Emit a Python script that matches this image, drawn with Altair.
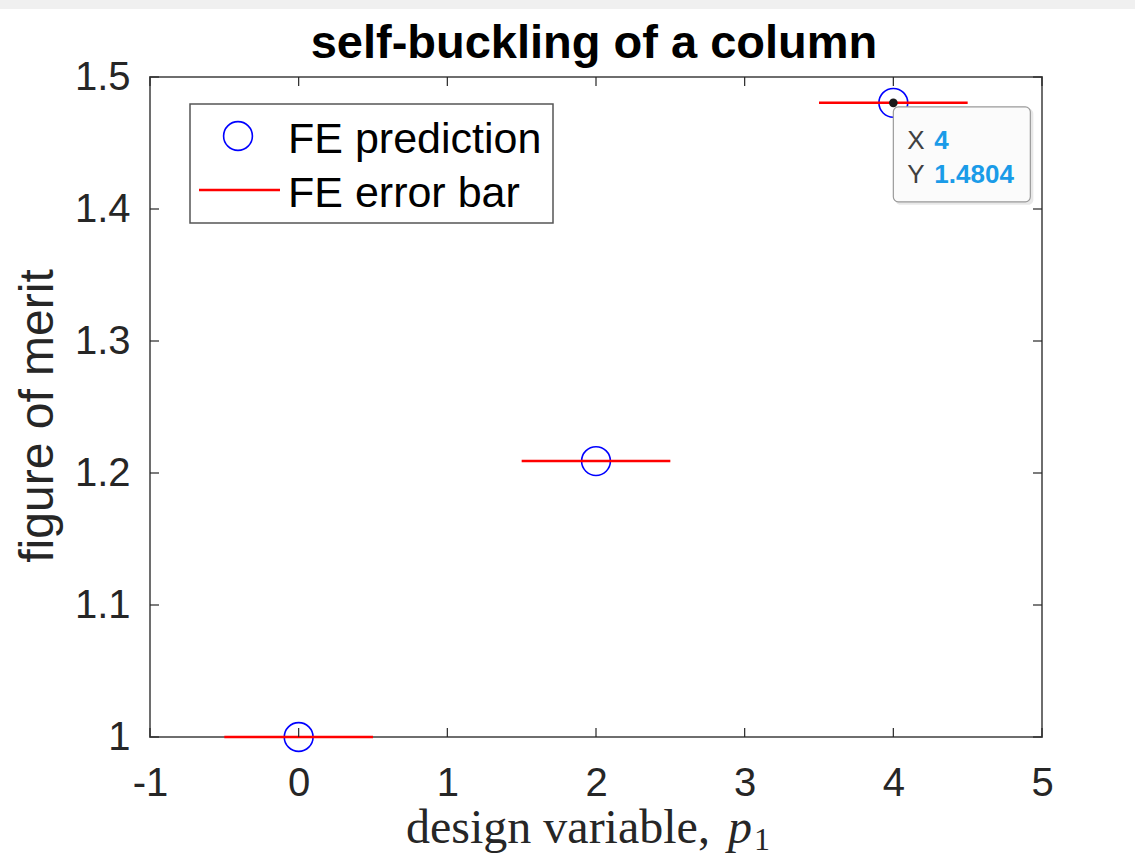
import altair as alt
import pandas as pd

# ---- data ----
p1 = [0, 2, 4]
fom = [1.0, 1.209, 1.4804]
err_half = [0.5, 0.5, 0.5]
x_ticks = [-1, 0, 1, 2, 3, 4, 5]
y_ticks = [1.0, 1.1, 1.2, 1.3, 1.4, 1.5]
legend_labels = ["FE prediction", "FE error bar"]
tip_x = [4]
tip_y = [1.4804]
tip_x_text = ["4"]
tip_y_text = ["1.4804"]
title_text = "self-buckling of a column"
xlabel_text = "design variable,"
ylabel_text = "figure of merit"

W, H = 892, 660
FONT = "Liberation Sans"
SERIF = "Liberation Serif"
AX = "#262626"

df = pd.DataFrame({"p1": p1, "fom": fom, "eh": err_half})
df["lo"] = df["p1"] - df["eh"]
df["hi"] = df["p1"] + df["eh"]
tip = pd.DataFrame({"x": tip_x, "y": tip_y, "tx": tip_x_text, "ty": tip_y_text})
one = pd.DataFrame({"a": [0]})

xs = alt.Scale(domain=[-1, 5], nice=False, zero=False)
ys = alt.Scale(domain=[1, 1.5], nice=False, zero=False)

x_axis = alt.Axis(values=x_ticks, format="d", labelExpr="replace(datum.label, '\u2212', '-')",
                  ticks=False, domain=False, grid=False,
                  labelFont=FONT, labelFontSize=40, labelColor=AX, labelPadding=26,
                  labelFlush=False, labelOverlap=False, title=None)
y_axis = alt.Axis(values=y_ticks, format="~g", ticks=False, domain=False, grid=False,
                  labelFont=FONT, labelFontSize=40, labelColor=AX, labelPadding=20,
                  labelFlush=False, labelOverlap=False, title=None)

band = alt.Chart(one).mark_rect(color="#f0f0f0").encode(
    x=alt.value(-150), x2=alt.value(985), y=alt.value(-77), y2=alt.value(-68))

circles = alt.Chart(df).mark_point(shape="circle", filled=False, color="#0000ff",
                                   size=830, strokeWidth=1.6, opacity=1).encode(
    x=alt.X("p1:Q", scale=xs, axis=x_axis),
    y=alt.Y("fom:Q", scale=ys, axis=y_axis))

bars = alt.Chart(df).mark_rule(color="#ff0000", strokeWidth=2.5).encode(
    x=alt.X("lo:Q", scale=xs), x2="hi", y=alt.Y("fom:Q", scale=ys))

# inward ticks on all four sides
xt = pd.DataFrame({"t": x_ticks})
yt = pd.DataFrame({"t": y_ticks})
tick_style = dict(color=AX, strokeWidth=1.2)
xt_bot = alt.Chart(xt).mark_rule(**tick_style).encode(
    x=alt.X("t:Q", scale=xs), y=alt.value(H - 9), y2=alt.value(H))
xt_top = alt.Chart(xt).mark_rule(**tick_style).encode(
    x=alt.X("t:Q", scale=xs), y=alt.value(0), y2=alt.value(9))
yt_left = alt.Chart(yt).mark_rule(**tick_style).encode(
    y=alt.Y("t:Q", scale=ys), x=alt.value(0), x2=alt.value(9))
yt_right = alt.Chart(yt).mark_rule(**tick_style).encode(
    y=alt.Y("t:Q", scale=ys), x=alt.value(W - 9), x2=alt.value(W))

# legend
leg_box = alt.Chart(one).mark_rect(fill="white", stroke="#555555", strokeWidth=1.5).encode(
    x=alt.value(40), x2=alt.value(403), y=alt.value(27), y2=alt.value(146))
leg_circ = alt.Chart(one).mark_point(shape="circle", filled=False, color="#0000ff",
                                     size=830, strokeWidth=1.6, opacity=1).encode(
    x=alt.value(88), y=alt.value(59))
leg_line = alt.Chart(one).mark_rule(color="#ff0000", strokeWidth=2.5).encode(
    x=alt.value(49), x2=alt.value(130), y=alt.value(113))
leg_t1 = alt.Chart(one).mark_text(font=FONT, fontSize=43, color="black", align="left",
                                  baseline="alphabetic").encode(
    x=alt.value(138), y=alt.value(76), text=alt.value(legend_labels[0]))
leg_t2 = alt.Chart(one).mark_text(font=FONT, fontSize=43, color="black", align="left",
                                  baseline="alphabetic").encode(
    x=alt.value(138), y=alt.value(130), text=alt.value(legend_labels[1]))

# datatip
tip_shadow = alt.Chart(tip).mark_rect(xOffset=2, x2Offset=140, yOffset=6, y2Offset=102,
                                      cornerRadius=5, fill="#d8d8d8", opacity=0.6).encode(
    x=alt.X("x:Q", scale=xs), x2="x", y=alt.Y("y:Q", scale=ys), y2="y")
tip_box = alt.Chart(tip).mark_rect(xOffset=0, x2Offset=137, yOffset=4, y2Offset=99,
                                   cornerRadius=5, fill="#fbfbfb", stroke="#9a9a9a",
                                   strokeWidth=1.2).encode(
    x=alt.X("x:Q", scale=xs), x2="x", y=alt.Y("y:Q", scale=ys), y2="y")
tip_dot = alt.Chart(tip).mark_point(shape="circle", filled=True, color="#1a1a1a",
                                    size=75, opacity=1).encode(
    x=alt.X("x:Q", scale=xs), y=alt.Y("y:Q", scale=ys))
tip_txt = dict(font=FONT, fontSize=26, align="left", baseline="alphabetic")
tip_lx = alt.Chart(tip).mark_text(color="#404040", dx=14, dy=46, **tip_txt).encode(
    x=alt.X("x:Q", scale=xs), y=alt.Y("y:Q", scale=ys), text=alt.value("X"))
tip_ly = alt.Chart(tip).mark_text(color="#404040", dx=14, dy=80, **tip_txt).encode(
    x=alt.X("x:Q", scale=xs), y=alt.Y("y:Q", scale=ys), text=alt.value("Y"))
tip_vx = alt.Chart(tip).mark_text(fontWeight="bold", color="#1a9be8", dx=41, dy=46,
                                  **tip_txt).encode(
    x=alt.X("x:Q", scale=xs), y=alt.Y("y:Q", scale=ys), text="tx:N")
tip_vy = alt.Chart(tip).mark_text(fontWeight="bold", color="#1a9be8", dx=41, dy=80,
                                  **tip_txt).encode(
    x=alt.X("x:Q", scale=xs), y=alt.Y("y:Q", scale=ys), text="ty:N")

# titles
title = alt.Chart(one).mark_text(font=FONT, fontSize=47, fontWeight="bold", color="black",
                                 align="center", baseline="alphabetic").encode(
    x=alt.value(W / 2 - 2), y=alt.value(-19), text=alt.value(title_text))
ylab = alt.Chart(one).mark_text(font=FONT, fontSize=48, color=AX, align="center",
                                baseline="middle", angle=270).encode(
    x=alt.value(-111), y=alt.value(339), text=alt.value(ylabel_text))
xlab = alt.Chart(one).mark_text(font=SERIF, fontSize=48, color=AX, align="left",
                                baseline="alphabetic").encode(
    x=alt.value(256), y=alt.value(766), text=alt.value(xlabel_text))
xlab_p = alt.Chart(one).mark_text(font=SERIF, fontSize=48, fontStyle="italic", color=AX,
                                  align="left", baseline="alphabetic").encode(
    x=alt.value(578), y=alt.value(766), text=alt.value("p"))
xlab_sub = alt.Chart(one).mark_text(font=SERIF, fontSize=32, color=AX, align="left",
                                    baseline="alphabetic").encode(
    x=alt.value(604), y=alt.value(773), text=alt.value("1"))

chart = alt.layer(
    circles, bars, band, xt_bot, xt_top, yt_left, yt_right,
    leg_box, leg_circ, leg_line, leg_t1, leg_t2,
    tip_shadow, tip_box, tip_dot, tip_lx, tip_ly, tip_vx, tip_vy,
    title, ylab, xlab, xlab_p, xlab_sub,
).properties(
    width=W, height=H,
    autosize=alt.AutoSizeParams(type="none"),
    padding={"left": 150, "top": 77, "right": 93, "bottom": 122},
    background="white",
).configure_view(stroke="#6e6e6e", strokeWidth=2)

chart.save("out.html", embed_options={"renderer": "svg", "actions": False})
